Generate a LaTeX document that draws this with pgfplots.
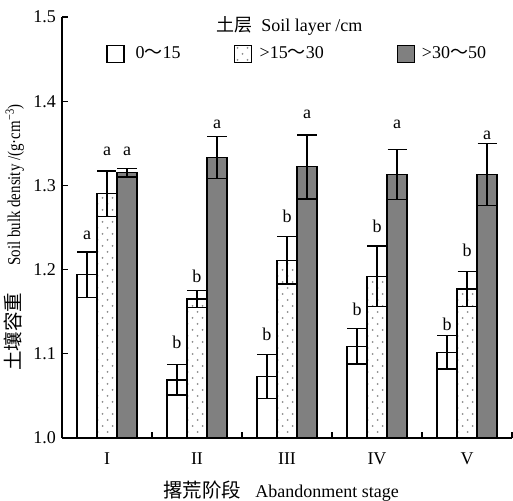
\documentclass[border=0pt]{standalone}
\usepackage{graphicx}
\usepackage{fontspec}
\setmainfont{Liberation Serif}
\newfontfamily\cjk{Noto Sans CJK SC}
\usepackage{pgfplots}
\pgfplotsset{compat=1.18}
\usepackage{pgfplotstable}
\usetikzlibrary{patterns}
\pgfdeclarepatternformonly{sparsedots}{\pgfqpoint{-1bp}{-1bp}}{\pgfqpoint{11bp}{13bp}}{\pgfqpoint{10bp}{12bp}}{%
  \pgfpathcircle{\pgfqpoint{2.5bp}{3bp}}{1bp}%
  \pgfpathcircle{\pgfqpoint{7.5bp}{9bp}}{1bp}%
  \pgfusepath{fill}}
\definecolor{darkbar}{RGB}{128,128,128}
\definecolor{dotgray}{RGB}{140,140,140}

\pgfplotsset{myerr/.style={error bars/.cd, y dir=both, y explicit,
  error bar style={line width=1.3bp, black},
  error mark options={rotate=90, mark size=9.5bp, line width=1.3bp, black}}}

\pgfplotstableread{
x w we d de k ke
1 1.194 0.027 1.290 0.027 1.315 0.005
2 1.069 0.018 1.165 0.010 1.333 0.025
3 1.073 0.026 1.211 0.028 1.322 0.038
4 1.109 0.021 1.192 0.036 1.313 0.030
5 1.102 0.020 1.177 0.021 1.313 0.037
}\bars

\pgfplotstableread{
x wl wt dl dt kl kt
1 1.236 a 1.335 a 1.335 a
2 1.106 b 1.185 b 1.368 a
3 1.116 b 1.2565 b 1.380 a
4 1.145 b 1.2435 b 1.367 a
5 1.128 b 1.215 b 1.354 a
}\labels

\begin{document}
\fontsize{18bp}{21bp}\selectfont
\begin{tikzpicture}
\begin{axis}[
  name=ax,
  scale only axis,
  width=450bp, height=421bp,
  xmin=0.5, xmax=5.5,
  ymin=1.0, ymax=1.5,
  axis x line=bottom, axis y line=left,
  axis line style={-, line width=1.2bp},
  ybar=0pt, bar width=20bp,
  xtick={1,2,3,4,5},
  xticklabels={I,II,III,IV,V},
  minor xtick={1.5,2.5,3.5,4.5,5.5},
  major x tick style={draw=none},
  minor tick length=6bp,
  major tick length=6bp,
  tick style={line width=1.2bp, black},
  tick align=inside,
  ytick={1.0,1.1,1.2,1.3,1.4,1.5},
  yticklabels={1.0,1.1,1.2,1.3,1.4,1.5},
  /pgf/number format/assume math mode=true,
  xticklabel style={yshift=-9bp},
  xlabel={{\cjk\fontsize{19.5bp}{21bp}\selectfont 撂荒阶段}\hspace{14bp}Abandonment stage},
  xlabel style={yshift=-4bp, xshift=-6bp},
  ylabel={{\cjk\fontsize{19.5bp}{21bp}\selectfont 土壤容重}\hspace{27bp}\scalebox{0.83}[1]{Soil bulk density /(g·cm\textsuperscript{−3})}},
  ylabel style={yshift=-3bp, xshift=-10bp},
  legend style={draw=none, fill=none, at={(rel axis cs:0.098,0.912)}, anchor=west,
    inner sep=0pt, column sep=0pt, nodes={inner sep=0pt}},
  legend columns=3,
  legend image code/.code={\draw[#1, draw=black, line width=1.2bp] (0bp,-8.5bp) rectangle (17bp,8.5bp);},
  every axis plot/.append style={line width=1.2bp},
]
\addplot[draw=black, fill=white, myerr] table[x=x, y=w, y error=we] {\bars};
\addlegendentry{\hspace{11bp}\makebox[98bp][l]{0{\cjk ～}15}}
\addplot[draw=black, pattern=sparsedots, pattern color=dotgray, myerr] table[x=x, y=d, y error=de] {\bars};
\addlegendentry{\hspace{8bp}\makebox[137bp][l]{>15{\cjk ～}30}}
\addplot[draw=black, fill=darkbar, myerr] table[x=x, y=k, y error=ke] {\bars};
\addlegendentry{\hspace{7bp}>30{\cjk ～}50}

\addplot[forget plot, draw=none, fill=none, bar shift=-20bp, nodes near coords, point meta=explicit symbolic, nodes near coords style={anchor=base, inner sep=0pt}] table[x=x, y=wl, meta=wt] {\labels};
\addplot[forget plot, draw=none, fill=none, bar shift=0bp, nodes near coords, point meta=explicit symbolic, nodes near coords style={anchor=base, inner sep=0pt}] table[x=x, y=dl, meta=dt] {\labels};
\addplot[forget plot, draw=none, fill=none, bar shift=20bp, nodes near coords, point meta=explicit symbolic, nodes near coords style={anchor=base, inner sep=0pt}] table[x=x, y=kl, meta=kt] {\labels};

\node at (rel axis cs:0.505,0.978) {{\cjk 土层}\hspace{9bp}Soil layer /cm};
\end{axis}
\pgfresetboundingbox
\path[use as bounding box] ([xshift=-62bp,yshift=-63bp]ax.south west) rectangle ([xshift=1bp,yshift=17bp]ax.north east);
\end{tikzpicture}
\end{document}
